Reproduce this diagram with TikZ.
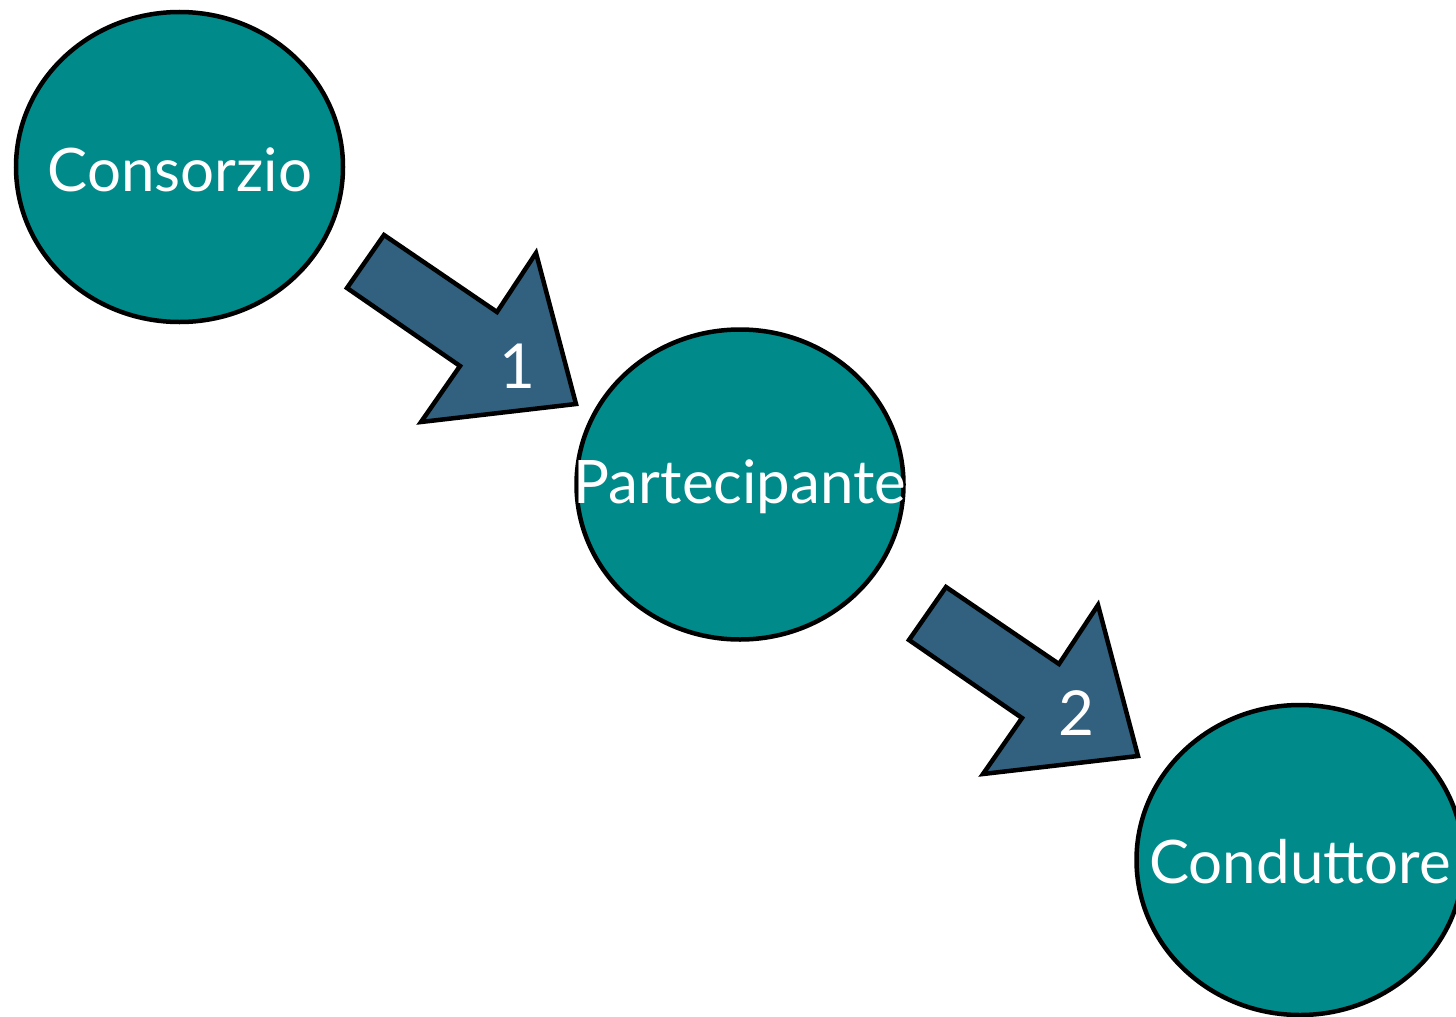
\documentclass[tikz,border=0pt]{standalone}
\usepackage{fontspec}
\setmainfont{Lato}
\usetikzlibrary{shapes.geometric}
\definecolor{tealfill}{RGB}{0,138,138}
\definecolor{arrowfill}{RGB}{49,97,127}
\tikzset{
  blob/.style={ellipse, draw=black, line width=4.5pt, fill=tealfill,
    minimum width=327pt, minimum height=310pt, inner sep=0pt},
  blobtext/.style={text=white, font=\fontsize{60}{60}\selectfont, inner sep=0pt},
  blockarrow/.style={draw=black, line width=4.5pt, line join=miter, fill=arrowfill},
  numlabel/.style={text=white, font=\fontsize{62}{62}\selectfont, inner sep=0pt}
}
\begin{document}
\begin{tikzpicture}[x=1pt,y=-1pt]
\useasboundingbox (0,0) rectangle (1456,1017);
\clip (0,0) rectangle (1456,1017);
\node[blob] (cons) at (179.5,167) {};
\node[blob] (part) at (740,484.5) {};
\node[blob] (cond) at (1300,860) {};
\node[blobtext] (tcons) at (180,170) {Consorzio};
\node[blobtext] (tpart) at (740,487) {Partecipante};
\node[blobtext] (tcond) at (1300,862) {Conduttore};
\draw[blockarrow] (384,235) -- (497,312) -- (536,253) -- (576,404) -- (421,422) -- (460,366) -- (347,288) -- cycle;
\draw[blockarrow] (946,587) -- (1059,664) -- (1098,605) -- (1138,756) -- (983,774) -- (1022,718) -- (909,640) -- cycle;
\node[numlabel] (n1) at (517,366) {1};
\node[numlabel] (n2) at (1076,713) {2};
\end{tikzpicture}
\end{document}
